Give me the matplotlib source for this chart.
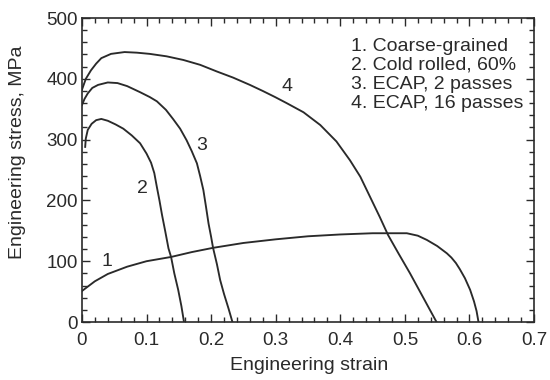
import matplotlib.pyplot as plt
from matplotlib.ticker import MultipleLocator

# values
# 1. coarse-grained
strain_1 = [0.0, 0.02, 0.04, 0.07, 0.1, 0.138, 0.17, 0.203, 0.25, 0.3, 0.35, 0.4, 0.45, 0.503, 0.52, 0.534,
            0.55, 0.565, 0.572, 0.579, 0.585, 0.593, 0.601, 0.607, 0.611, 0.614]
stress_1 = [51, 67, 79, 91, 100, 107, 115, 122, 130, 136, 141, 144, 146, 146, 142, 135,
            125, 113, 106, 97, 87, 72, 53, 34, 18, 0]
# 2. cold rolled 60%
strain_2 = [0.005, 0.006, 0.009, 0.015, 0.022, 0.03, 0.04, 0.052, 0.064, 0.077, 0.09, 0.1, 0.107, 0.112,
            0.116, 0.12, 0.124, 0.129, 0.134, 0.138, 0.143, 0.149, 0.154, 0.158]
stress_2 = [288, 302, 316, 326, 332, 334, 331, 325, 318, 307, 294, 277, 262, 245,
            222, 200, 176, 149, 121, 107, 80, 53, 26, 0]
# 3. ECAP, 2 passes
strain_3 = [0.0, 0.004, 0.009, 0.016, 0.025, 0.04, 0.055, 0.07, 0.09, 0.105, 0.116, 0.13, 0.141, 0.152,
            0.162, 0.17, 0.178, 0.183, 0.188, 0.192, 0.196, 0.2, 0.203, 0.209, 0.214, 0.22, 0.227, 0.233]
stress_3 = [357, 367, 376, 385, 390, 394, 393, 388, 378, 370, 363, 349, 334, 318,
            299, 281, 261, 240, 217, 190, 162, 140, 122, 95, 69, 46, 22, 0]
# 4. ECAP, 16 passes
strain_4 = [0.0, 0.006, 0.014, 0.022, 0.03, 0.045, 0.066, 0.085, 0.105, 0.131, 0.157, 0.183, 0.209, 0.234,
            0.26, 0.28, 0.299, 0.317, 0.343, 0.369, 0.394, 0.415, 0.431, 0.446, 0.461, 0.474, 0.49, 0.508,
            0.528, 0.549]
stress_4 = [382, 400, 414, 425, 434, 441, 444, 443, 441, 437, 431, 423, 412, 402,
            390, 380, 370, 360, 345, 324, 297, 266, 239, 206, 173, 143, 113, 80,
            41, 0]

curve_labels = ['1', '2', '3', '4']
label_pos = [(0.039, 99), (0.094, 220), (0.186, 291), (0.317, 387)]
legend_lines = ['1. Coarse-grained', '2. Cold rolled, 60%', '3. ECAP, 2 passes', '4. ECAP, 16 passes']
xtick_labels = ['0', '0.1', '0.2', '0.3', '0.4', '0.5', '0.6', '0.7']

plt.rcParams['font.family'] = ['Liberation Sans', 'DejaVu Sans']
ink = '#2a2a2a'

fig = plt.figure(figsize=(5.5, 3.8), dpi=100)
ax = fig.add_axes([0.149, 0.1526, 0.822, 0.80])

for xs, ys in [(strain_1, stress_1), (strain_2, stress_2), (strain_3, stress_3), (strain_4, stress_4)]:
    ax.plot(xs, ys, color=ink, lw=1.35, solid_joinstyle='round')

for lab, (x, y) in zip(curve_labels, label_pos):
    ax.text(x, y, lab, fontsize=14, color=ink, ha='center', va='center')

ax.text(0.595, 0.935, '\n'.join(legend_lines), transform=ax.transAxes, fontsize=14,
        color=ink, ha='left', va='top', linespacing=1.17)

ax.set_xlim(0, 0.7)
ax.set_ylim(0, 500)
ax.xaxis.set_minor_locator(MultipleLocator(0.02))
ax.yaxis.set_major_locator(MultipleLocator(100))
ax.yaxis.set_minor_locator(MultipleLocator(20))
ax.set_xticks([0, 0.1, 0.2, 0.3, 0.4, 0.5, 0.6, 0.7])
ax.set_xticklabels(xtick_labels)
ax.tick_params(which='both', direction='in', top=True, right=True, colors=ink, labelsize=13.5, width=1)
ax.tick_params(which='major', length=6)
ax.tick_params(which='minor', length=3.5)
ax.tick_params(axis='x', pad=7)
ax.tick_params(axis='y', pad=3)
for s in ax.spines.values():
    s.set_color(ink)
    s.set_linewidth(1.2)

fig.text(309 / 550, 10 / 380, 'Engineering strain', fontsize=14, color=ink, ha='center', va='baseline')
fig.text(18 / 550, 1 - 152 / 380, 'Engineering stress, MPa', fontsize=14, color=ink,
         ha='center', va='center', rotation=90)

fig.savefig('out.png', dpi=100)
